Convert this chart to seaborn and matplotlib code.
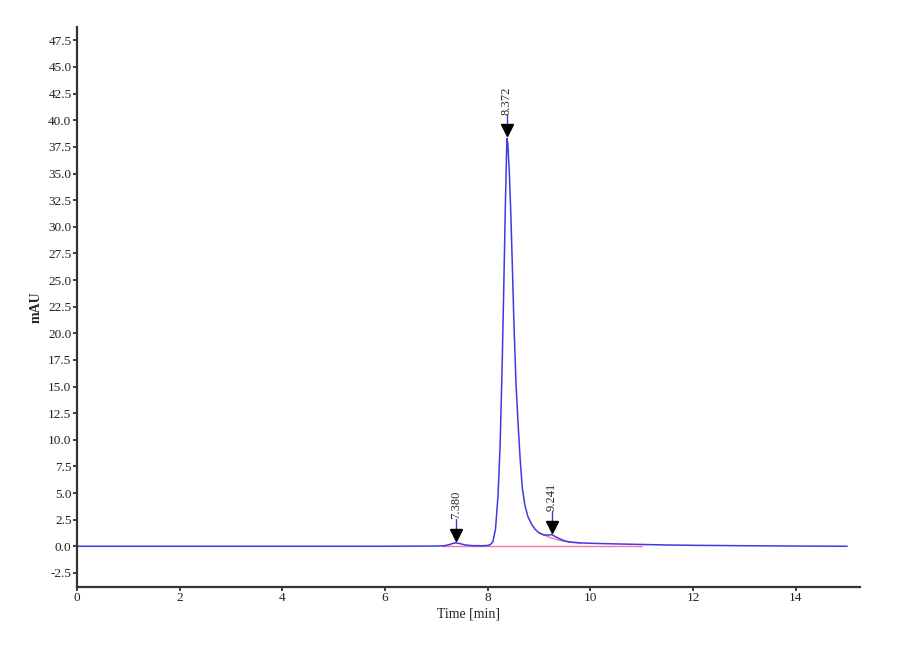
import pandas as pd
import matplotlib
matplotlib.use("Agg")
import matplotlib.pyplot as plt
import seaborn as sns

# chromatogram points (time in min, signal in mAU)
time = [0.0, 2.0, 4.0, 6.0, 7.0, 7.15, 7.25, 7.32, 7.38, 7.45, 7.55, 7.7, 7.9,
        8.0, 8.05, 8.10, 8.15, 8.20, 8.24, 8.28, 8.31, 8.34, 8.36, 8.372,
        8.39, 8.42, 8.45, 8.48, 8.51, 8.55, 8.59, 8.63, 8.67, 8.72, 8.78,
        8.85, 8.92, 9.0, 9.1, 9.18, 9.241, 9.3, 9.4, 9.5, 9.6, 9.8, 10.0,
        10.5, 11.0, 11.5, 12.0, 13.0, 14.0, 15.0]
signal = [0.0, 0.0, 0.0, 0.0, 0.02, 0.05, 0.15, 0.27, 0.32, 0.26, 0.13, 0.06, 0.05,
          0.08, 0.15, 0.45, 1.6, 4.8, 9.5, 17.0, 24.0, 31.5, 35.8, 38.3,
          37.8, 35.0, 31.0, 26.0, 20.8, 15.2, 11.5, 8.2, 5.6, 3.9, 2.8,
          2.1, 1.6, 1.25, 1.05, 1.05, 1.1, 0.95, 0.7, 0.5, 0.4, 0.32, 0.28,
          0.22, 0.17, 0.12, 0.09, 0.05, 0.02, 0.0]

# integration baseline and the skim under the shoulder
base_time = [7.1, 11.0]
base_val = [0.0, 0.0]
skim_time = [9.0, 9.2, 9.4, 9.6, 9.8]
skim_val = [1.25, 0.85, 0.55, 0.38, 0.3]

# peak marks
peak_rt = [7.380, 8.372, 9.241]
peak_top = [0.32, 38.3, 1.1]
peak_labels = ["7.380", "8.372", "9.241"]

df = pd.DataFrame({"Time [min]": time, "mAU": signal})

sns.set_style("ticks")
plt.rcParams["font.family"] = ["Liberation Serif", "DejaVu Serif"]

fig = plt.figure(figsize=(9, 6.6), dpi=100)
ax = fig.add_axes([0.0856, 0.111, 0.870, 0.848])

ax.plot(base_time, base_val, color="#ff70b0", lw=1.0)
ax.plot(skim_time, skim_val, color="#ff70b0", lw=1.0)
sns.lineplot(data=df, x="Time [min]", y="mAU", ax=ax, color="#3c3ce0", lw=1.1, sort=False)

for rt, top, lab in zip(peak_rt, peak_top, peak_labels):
    ax.plot([rt, rt], [top + 0.6, top + 2.2], color="#3c3ce0", lw=1.0)
    ax.plot(rt, top + 0.75, marker="v", color="black", markersize=9, ls="none")
    ax.text(rt, top + 2.2, lab, rotation=90, ha="center", va="bottom", fontsize=9)

ax.set_xlim(0, 15.25)
ax.set_ylim(-3.8, 48.75)
ax.set_xticks(range(0, 15, 2))
ax.set_yticks([i * 2.5 for i in range(-1, 20)])
ax.set_yticklabels([f"{i * 2.5:.1f}" for i in range(-1, 20)])
ax.tick_params(labelsize=9.5, length=3, width=1.2, colors="#222222", pad=1)
for s in ["top", "right"]:
    ax.spines[s].set_visible(False)
for s in ["left", "bottom"]:
    ax.spines[s].set_linewidth(1.6)
    ax.spines[s].set_color("#333333")

ax.set_xlabel("Time [min]", fontsize=10, labelpad=2)
ax.set_ylabel("mAU", fontsize=10, fontweight="bold", labelpad=4)

fig.savefig("out.png", dpi=100)
